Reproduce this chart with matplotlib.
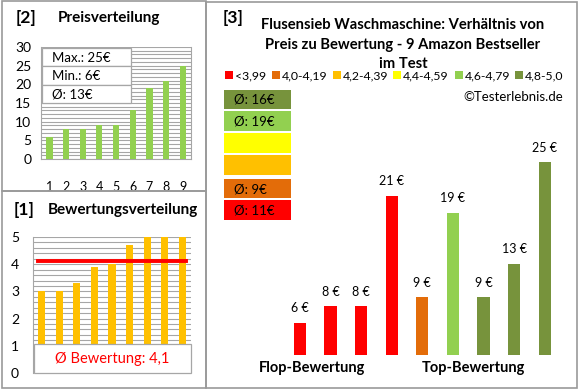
import matplotlib
matplotlib.use("Agg")
import matplotlib.pyplot as plt
from matplotlib.patches import Rectangle

plt.rcParams['font.family'] = ['Lato', 'DejaVu Sans']

# ---- data ----
price_idx = [1, 2, 3, 4, 5, 6, 7, 8, 9]
prices_sorted = [6, 8, 8, 9, 9, 13, 19, 21, 25]
price_stats = ["Max.: 25€", "Min.: 6€", "Ø: 13€"]

ratings = [3.0, 3.0, 3.3, 3.9, 4.0, 4.7, 5.0, 5.0, 5.0]
avg_rating = 4.1
avg_rating_label = "Ø Bewertung: 4,1"

bar_prices = [6, 8, 8, 21, 9, 19, 9, 13, 25]
bar_labels = ["6 €", "8 €", "8 €", "21 €", "9 €", "19 €", "9 €", "13 €", "25 €"]
bar_classes = [0, 0, 0, 0, 1, 4, 5, 5, 5]

class_names = ["<3,99", "4,0-4,19", "4,2-4,39", "4,4-4,59", "4,6-4,79", "4,8-5,0"]
class_colors = ["#FF0000", "#E36C09", "#FFC000", "#FFFF00", "#92D050", "#77933C"]
class_avgs = ["Ø: 11€", "Ø: 9€", "", "", "Ø: 19€", "Ø: 16€"]

W, H = 580, 390
fig = plt.figure(figsize=(W / 100, H / 100), dpi=100)


def fx(x):
    return x / W


def fy(y):
    return 1 - y / H


def ax_px(x0, y0, x1, y1):
    return fig.add_axes([fx(x0), fy(y1), fx(x1) - fx(x0), fy(y0) - fy(y1)])


def frame(x0, y0, x1, y1, **kw):
    fig.patches.append(Rectangle((fx(x0), fy(y1)), fx(x1) - fx(x0), fy(y0) - fy(y1),
                                 transform=fig.transFigure, fill=False,
                                 edgecolor="#9A9A9A", lw=1.2, **kw))


def ftext(x, y, s, **kw):
    fig.text(fx(x), fy(y), s, **kw)


# panel frames
frame(1.5, 1.5, 206, 191)
frame(1.5, 191, 206, 388)
frame(206, 1.5, 577, 388)

GRID = "#A6A6A6"

# ---- [2] Preisverteilung ----
ftext(16, 18, "[2]", fontsize=12.5, fontweight="bold", va="center", ha="left")
ftext(58, 18, "Preisverteilung", fontsize=11, fontweight="bold", va="center", ha="left")

ax1 = ax_px(41, 47, 191, 159)
ax1.bar(price_idx, prices_sorted, width=0.38, color="#92D050", zorder=3)
ax1.set_xlim(0.5, 9.5)
ax1.set_ylim(0, 30)
ax1.set_yticks(range(0, 31, 5))
ax1.set_yticks(range(0, 31, 1), minor=True)
ax1.yaxis.grid(True, which="both", color=GRID, lw=0.8, zorder=0)
ax1.set_xticks(price_idx)
ax1.tick_params(axis="x", length=0, pad=16, labelsize=9)
ax1.tick_params(axis="y", which="both", length=0, pad=7, labelsize=10)
for s in ["top"]:
    ax1.spines[s].set_visible(False)
ax1.spines["left"].set_color(GRID)
ax1.spines["right"].set_color(GRID)
ax1.spines["bottom"].set_color(GRID)

# info box
for i, s in enumerate(price_stats):
    y0 = 48 + i * 18.3
    fig.patches.append(Rectangle((fx(42), fy(y0 + 18.3)), fx(131) - fx(42), fy(y0) - fy(y0 + 18.3),
                                 transform=fig.transFigure, facecolor="white",
                                 edgecolor="#A6A6A6", lw=0.9, zorder=5))
    ftext(52, y0 + 9.5, s, fontsize=9.5, va="center", ha="left", zorder=6)

# ---- [1] Bewertungsverteilung ----
ftext(14, 210, "[1]", fontsize=12.5, fontweight="bold", va="center", ha="left")
ftext(48, 210, "Bewertungsverteilung", fontsize=11, fontweight="bold", va="center", ha="left")

ax2 = ax_px(33, 237, 191, 373)
ax2.bar(price_idx, ratings, width=0.4, color="#FFC000", zorder=3)
ax2.plot([price_idx[0] - 0.2, price_idx[-1] + 0.2], [avg_rating, avg_rating],
         color="#FF0000", lw=2.8, zorder=4)
ax2.set_xlim(0.5, 9.5)
ax2.set_ylim(0, 5)
ax2.set_yticks(range(0, 6))
ax2.set_yticks([i * 0.2 for i in range(26)], minor=True)
ax2.yaxis.grid(True, which="both", color=GRID, lw=0.8, zorder=0)
ax2.set_xticks([])
ax2.tick_params(axis="y", which="both", length=0, pad=10, labelsize=10)
for s in ["top", "right", "bottom"]:
    ax2.spines[s].set_visible(False)
ax2.spines["left"].set_color(GRID)

fig.patches.append(Rectangle((fx(34), fy(373)), fx(191) - fx(34), fy(344) - fy(373),
                             transform=fig.transFigure, facecolor="white",
                             edgecolor="#A6A6A6", lw=0.9, zorder=5))
ftext(112, 359, avg_rating_label, fontsize=10.5, color="#FF0000", va="center", ha="center", zorder=6)

# ---- [3] main panel ----
ftext(223, 18, "[3]", fontsize=12.5, fontweight="bold", va="center", ha="left")
title_lines = ["Flusensieb Waschmaschine: Verhältnis von",
               "Preis zu Bewertung - 9 Amazon Bestseller",
               "im Test"]
for i, t in enumerate(title_lines):
    ftext(403, 25 + i * 19.5, t, fontsize=10.6, fontweight="bold", va="center", ha="center")

legend_x = [225, 272, 333, 393, 455, 515]
for x, name, c in zip(legend_x, class_names, class_colors):
    fig.patches.append(Rectangle((fx(x), fy(79)), fx(7.5) - fx(0), fy(0) - fy(7.5),
                                 transform=fig.transFigure, facecolor=c, edgecolor="none"))
    ftext(x + 10, 75.5, name, fontsize=8.8, va="center", ha="left")

ftext(563, 97, "©Testerlebnis.de", fontsize=9.5, va="center", ha="right")

box_tops = [200, 179, 155, 133, 111, 90]
box_h = [20, 19, 20, 20, 20, 19]
for top, hh, c, lab in zip(box_tops, box_h, class_colors, class_avgs):
    fig.patches.append(Rectangle((fx(224), fy(top + hh)), fx(291) - fx(224), fy(top) - fy(top + hh),
                                 transform=fig.transFigure, facecolor=c, edgecolor="none"))
    if lab:
        ftext(234, top + hh / 2 + 0.5, lab, fontsize=9.5, va="center", ha="left")

ax3 = ax_px(254, 130, 560, 355)
pos = list(range(len(bar_prices)))
ax3.bar(pos, bar_prices, width=0.4,
        color=[class_colors[k] for k in bar_classes], zorder=3)
for p, v, lab in zip(pos, bar_prices, bar_labels):
    ax3.annotate(lab, (p, v), xytext=(0, 6), textcoords="offset points",
                 ha="center", va="bottom", fontsize=9)
ax3.set_xlim(-1.5, 8.5)
ax3.set_ylim(2.2, 2.2 + 225 / 8.47)
ax3.axis("off")

ftext(312, 368, "Flop-Bewertung", fontsize=10.5, fontweight="bold", va="center", ha="center")
ftext(473, 368, "Top-Bewertung", fontsize=10.5, fontweight="bold", va="center", ha="center")

fig.savefig("out.png", dpi=100)
